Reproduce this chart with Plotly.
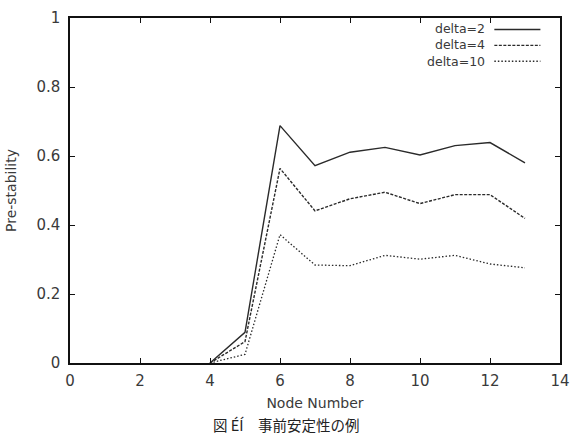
import plotly.graph_objects as go

nodes = [4, 5, 6, 7, 8, 9, 10, 11, 12, 13]
delta2 = [0.0, 0.089, 0.688, 0.572, 0.611, 0.625, 0.603, 0.630, 0.639, 0.580]
delta4 = [0.0, 0.062, 0.564, 0.441, 0.476, 0.495, 0.462, 0.488, 0.488, 0.419]
delta10 = [0.0, 0.025, 0.372, 0.284, 0.282, 0.312, 0.301, 0.312, 0.287, 0.276]
series_names = ["delta=2", "delta=4", "delta=10"]
xticks = [0, 2, 4, 6, 8, 10, 12, 14]
yticks = [0, 0.2, 0.4, 0.6, 0.8, 1]
ytick_text = ["0", "0.2", "0.4", "0.6", "0.8", "1"]

FONT = "DejaVu Sans"
TXT = "#3a3a3a"
line_color = "#2a2a2a"
dashes = ["solid", "3px,1.5px", "1.5px,2px"]
widths = [1.4, 1.4, 1.3]

fig = go.Figure()
for name, ys, d, w in zip(series_names, [delta2, delta4, delta10], dashes, widths):
    fig.add_trace(go.Scatter(x=nodes, y=ys, mode="lines", name=name,
                             line=dict(color=line_color, width=w, dash=d),
                             showlegend=False))

# gnuplot-like legend: right-aligned text block, then line samples
LEG_FS = 12.5
mid = 0.9207
step = LEG_FS * 1.3 / 353
fig.add_annotation(x=0.851, y=mid, xref="paper", yref="paper",
                   text="<br>".join(series_names), align="right",
                   showarrow=False, xanchor="right", yanchor="middle",
                   font=dict(family=FONT, size=LEG_FS, color=TXT))
for i, (d, w) in enumerate(zip(dashes, widths)):
    yy = mid + step * (1 - i)
    fig.add_shape(type="line", xref="paper", yref="paper",
                  x0=0.866, x1=0.96, y0=yy, y1=yy,
                  line=dict(color=line_color, width=w, dash=d))

axis_common = dict(showline=True, linecolor="#111", linewidth=1.5, mirror="ticks",
                   ticks="inside", ticklen=5, tickcolor="#111", tickwidth=1,
                   showgrid=False, zeroline=False,
                   tickfont=dict(family=FONT, size=15, color=TXT))

fig.update_xaxes(range=[0, 14], tickvals=xticks, ticktext=[str(v) for v in xticks],
                 ticklabelstandoff=3,
                 title=dict(text="Node Number", font=dict(family=FONT, size=14, color=TXT), standoff=9),
                 **axis_common)
fig.update_yaxes(range=[0, 1], tickvals=yticks, ticktext=ytick_text,
                 ticklabelstandoff=5,
                 title=dict(text="Pre-stability", font=dict(family=FONT, size=14, color=TXT), standoff=16),
                 **axis_common)

fig.add_annotation(x=0.442, y=-0.1416, xref="paper", yref="paper", xanchor="center", yanchor="top",
                   text="図 ÉÍ　事前安定性の例", showarrow=False,
                   font=dict(family="Noto Sans CJK JP", size=14.5, color="#222"))

fig.update_layout(width=579, height=435, margin=dict(l=70, r=9, t=10, b=72),
                  paper_bgcolor="white", plot_bgcolor="white",
                  font=dict(family=FONT))
fig.write_html("out.html")
